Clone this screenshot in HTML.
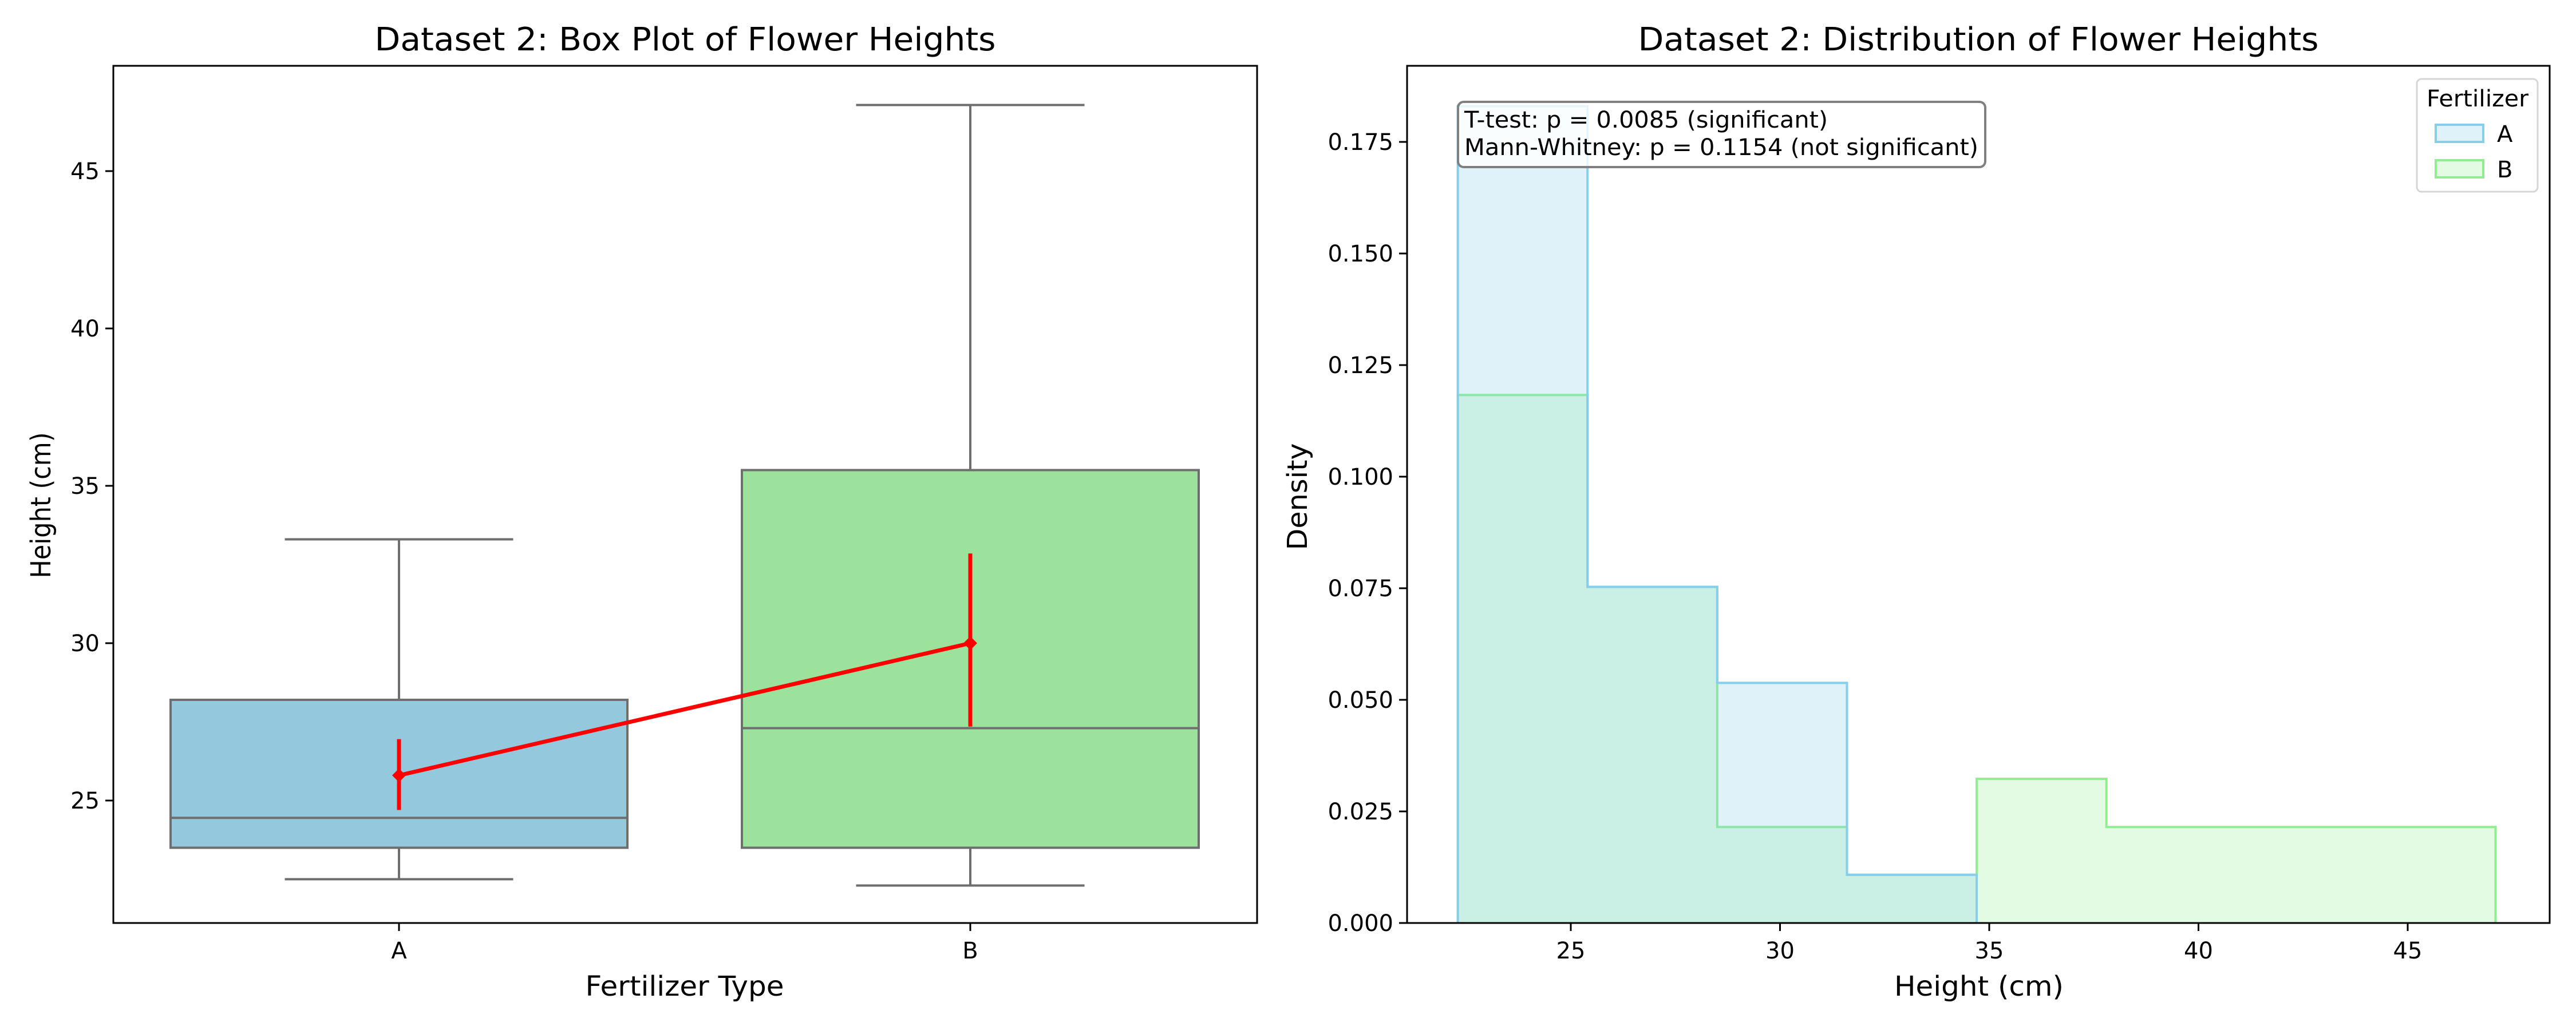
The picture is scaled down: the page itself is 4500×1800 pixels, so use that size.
<!DOCTYPE html>
<html><head><meta charset="utf-8"><style>html,body{margin:0;padding:0;background:#fff}svg{display:block}</style></head>
<body>
<svg id="fig" width="4500" height="1800" xmlns="http://www.w3.org/2000/svg" font-family="'DejaVu Sans','Liberation Sans',sans-serif">
<rect width="4500" height="1800" fill="#fff"/>
<g id="left"></g>
<g id="right"></g>
</svg>
<script>
// ---- Box plot data ----
const boxCategories = ["A", "B"];
const boxWhiskerLow = [22.5, 22.3];
const boxQ1 = [23.5, 23.5];
const boxMedian = [24.45, 27.3];
const boxQ3 = [28.2, 35.5];
const boxWhiskerHigh = [33.3, 47.1];
const meanValues = [25.8, 30.0];
const ciLow = [24.7, 27.35];
const ciHigh = [26.95, 32.85];
const boxColors = ["#93c8dd", "#9ce29c"];
const boxYTicks = [25, 30, 35, 40, 45];
// ---- Histogram data ----
const binEdges = [22.3, 25.4, 28.5, 31.6, 34.7, 37.8, 40.9, 44.0, 47.1];
const densityA = [0.183, 0.0753, 0.0538, 0.0108, 0, 0, 0, 0];
const densityB = [0.1183, 0.0753, 0.0215, 0.0108, 0.0323, 0.0215, 0.0215, 0.0215];
const histXTicks = [25, 30, 35, 40, 45];
const histYTicks = [0, 0.025, 0.05, 0.075, 0.1, 0.125, 0.15, 0.175];
const histYTickLabels = ["0.000","0.025","0.050","0.075","0.100","0.125","0.150","0.175"];

const NS = "http://www.w3.org/2000/svg";
function mk(parent, tag, attrs, text) {
  const e = document.createElementNS(NS, tag);
  for (const k in attrs) e.setAttribute(k, attrs[k]);
  if (text !== undefined) e.textContent = text;
  parent.appendChild(e);
  return e;
}
const L = document.getElementById("left");
const R = document.getElementById("right");

// ---- Left axes ----
const lx0 = 198, lx1 = 2196, ly0 = 115, ly1 = 1613;
const yL = v => 1399 - (v - 25) * 55;
const xL = i => 697 + i * 998;
const halfW = 399;

boxCategories.forEach((c, i) => {
  const cx = xL(i);
  let e;
  e = mk(L, "line", {x1: cx, x2: cx, y1: yL(boxQ3[i]), y2: yL(boxWhiskerHigh[i]), stroke: "#6e6e6e", "stroke-width": 4});
  
  
  e = mk(L, "line", {x1: cx, x2: cx, y1: yL(boxQ1[i]), y2: yL(boxWhiskerLow[i]), stroke: "#6e6e6e", "stroke-width": 4});
  
  
  e = mk(L, "line", {x1: cx - halfW / 2, x2: cx + halfW / 2, y1: yL(boxWhiskerHigh[i]), y2: yL(boxWhiskerHigh[i]), stroke: "#6e6e6e", "stroke-width": 4});
  
  
  e = mk(L, "line", {x1: cx - halfW / 2, x2: cx + halfW / 2, y1: yL(boxWhiskerLow[i]), y2: yL(boxWhiskerLow[i]), stroke: "#6e6e6e", "stroke-width": 4});
  
  
  e = mk(L, "rect", {x: cx - halfW, y: yL(boxQ3[i]), width: 2 * halfW, height: yL(boxQ1[i]) - yL(boxQ3[i]), fill: boxColors[i], stroke: "#6e6e6e", "stroke-width": 4});
  
  
  e = mk(L, "line", {x1: cx - halfW, x2: cx + halfW, y1: yL(boxMedian[i]), y2: yL(boxMedian[i]), stroke: "#6e6e6e", "stroke-width": 4});
  
  
});
// mean line
const pts = meanValues.map((v, i) => xL(i) + "," + yL(v)).join(" ");
let ml = mk(L, "polyline", {points: pts, fill: "none", stroke: "#ff0000", "stroke-width": 7});


meanValues.forEach((v, i) => {
  const cx = xL(i);
  let e = mk(L, "line", {x1: cx, x2: cx, y1: yL(ciLow[i]), y2: yL(ciHigh[i]), stroke: "#ff0000", "stroke-width": 7});
  
  
  const y = yL(v), d = 12;
  e = mk(L, "polygon", {points: `${cx},${y-d} ${cx+d},${y} ${cx},${y+d} ${cx-d},${y}`, fill: "#ff0000"});
  
  
});
let fr = mk(L, "rect", {x: lx0, y: ly0, width: lx1 - lx0, height: ly1 - ly0, fill: "none", stroke: "#000", "stroke-width": 3});


boxYTicks.forEach(t => {
  let e = mk(L, "line", {x1: lx0 - 14, x2: lx0, y1: yL(t), y2: yL(t), stroke: "#000", "stroke-width": 3});
  
  
  e = mk(L, "text", {x: lx0 - 24, y: yL(t) + 14, "text-anchor": "end", "font-size": 40}, String(t));
  
  
});
boxCategories.forEach((c, i) => {
  let e = mk(L, "line", {x1: xL(i), x2: xL(i), y1: ly1, y2: ly1 + 14, stroke: "#000", "stroke-width": 3});
  
  
  e = mk(L, "text", {x: xL(i), y: ly1 + 62, "text-anchor": "middle", "font-size": 40}, c);
  
  
});
let t = mk(L, "text", {x: 1197, y: 88, "text-anchor": "middle", "font-size": 56, textLength: 1085, lengthAdjust: "spacingAndGlyphs"}, "Dataset 2: Box Plot of Flower Heights");


t = mk(L, "text", {x: 1196, y: 1740, "text-anchor": "middle", "font-size": 48, textLength: 347, lengthAdjust: "spacingAndGlyphs"}, "Fertilizer Type");


t = mk(L, "text", {x: 0, y: 0, "text-anchor": "middle", "font-size": 48, transform: "translate(88,883) rotate(-90)", textLength: 255, lengthAdjust: "spacingAndGlyphs"}, "Height (cm)");



// ---- Right axes ----
const rx0 = 2458, rx1 = 4454;
const xR = v => 2744 + (v - 25) * 73.1;
const yR = v => 1613 - v * 7800;
function stepPath(vals) {
  let d = `M${xR(binEdges[0])},${yR(0)}`;
  vals.forEach((v, i) => { d += ` L${xR(binEdges[i])},${yR(v)} L${xR(binEdges[i+1])},${yR(v)}`; });
  d += ` L${xR(binEdges[binEdges.length-1])},${yR(0)}`;
  return d;
}
function lastNonZero(vals){let k=vals.length;while(k>0&&vals[k-1]===0)k--;return k;}
function stepPathTrim(vals){const n=lastNonZero(vals);let d=`M${xR(binEdges[0])},${yR(0)}`;for(let i=0;i<n;i++){d+=` L${xR(binEdges[i])},${yR(vals[i])} L${xR(binEdges[i+1])},${yR(vals[i])}`;}d+=` L${xR(binEdges[n])},${yR(0)}`;return d;}
let hb = mk(R, "path", {d: stepPathTrim(densityB), fill: "rgba(144,238,144,0.25)", stroke: "#90ee90", "stroke-width": 4});


let ha = mk(R, "path", {d: stepPathTrim(densityA), fill: "rgba(135,206,235,0.27)", stroke: "#87ceeb", "stroke-width": 4});


fr = mk(R, "rect", {x: rx0, y: ly0, width: rx1 - rx0, height: ly1 - ly0, fill: "none", stroke: "#000", "stroke-width": 3});


histYTicks.forEach((v, i) => {
  let e = mk(R, "line", {x1: rx0 - 14, x2: rx0, y1: yR(v), y2: yR(v), stroke: "#000", "stroke-width": 3});
  
  
  e = mk(R, "text", {x: rx0 - 24, y: yR(v) + 14, "text-anchor": "end", "font-size": 40}, histYTickLabels[i]);
  
  
});
histXTicks.forEach(v => {
  let e = mk(R, "line", {x1: xR(v), x2: xR(v), y1: ly1, y2: ly1 + 14, stroke: "#000", "stroke-width": 3});
  
  
  e = mk(R, "text", {x: xR(v), y: ly1 + 62, "text-anchor": "middle", "font-size": 40}, String(v));
  
  
});
t = mk(R, "text", {x: 3456, y: 88, "text-anchor": "middle", "font-size": 56, textLength: 1189, lengthAdjust: "spacingAndGlyphs"}, "Dataset 2: Distribution of Flower Heights");


t = mk(R, "text", {x: 3457, y: 1740, "text-anchor": "middle", "font-size": 48, textLength: 296, lengthAdjust: "spacingAndGlyphs"}, "Height (cm)");


t = mk(R, "text", {x: 0, y: 0, "text-anchor": "middle", "font-size": 48, transform: "translate(2283,868) rotate(-90)", textLength: 187, lengthAdjust: "spacingAndGlyphs"}, "Density");


// stats box
let sb = mk(R, "rect", {x: 2547, y: 178, width: 921, height: 114, rx: 10, fill: "rgba(255,255,255,0.8)", stroke: "#808080", "stroke-width": 4});


t = mk(R, "text", {x: 2558, y: 223, "font-size": 40, textLength: 635, lengthAdjust: "spacingAndGlyphs"}, "T-test: p = 0.0085 (significant)");


t = mk(R, "text", {x: 2558, y: 271, "font-size": 40, textLength: 898, lengthAdjust: "spacingAndGlyphs"}, "Mann-Whitney: p = 0.1154 (not significant)");


// legend
let lg = mk(R, "rect", {x: 4222, y: 138, width: 211, height: 197, rx: 8, fill: "rgba(255,255,255,0.8)", stroke: "#d6d6d6", "stroke-width": 3});


t = mk(R, "text", {x: 4328, y: 186, "text-anchor": "middle", "font-size": 40, textLength: 178, lengthAdjust: "spacingAndGlyphs"}, "Fertilizer");


let p = mk(R, "rect", {x: 4255, y: 218, width: 83, height: 30, fill: "rgba(135,206,235,0.27)", stroke: "#87ceeb", "stroke-width": 4});


t = mk(R, "text", {x: 4362, y: 248, "font-size": 40}, "A");


p = mk(R, "rect", {x: 4255, y: 280, width: 83, height: 30, fill: "rgba(144,238,144,0.25)", stroke: "#90ee90", "stroke-width": 4});


t = mk(R, "text", {x: 4362, y: 310, "font-size": 40}, "B");


</script>
</body></html>
